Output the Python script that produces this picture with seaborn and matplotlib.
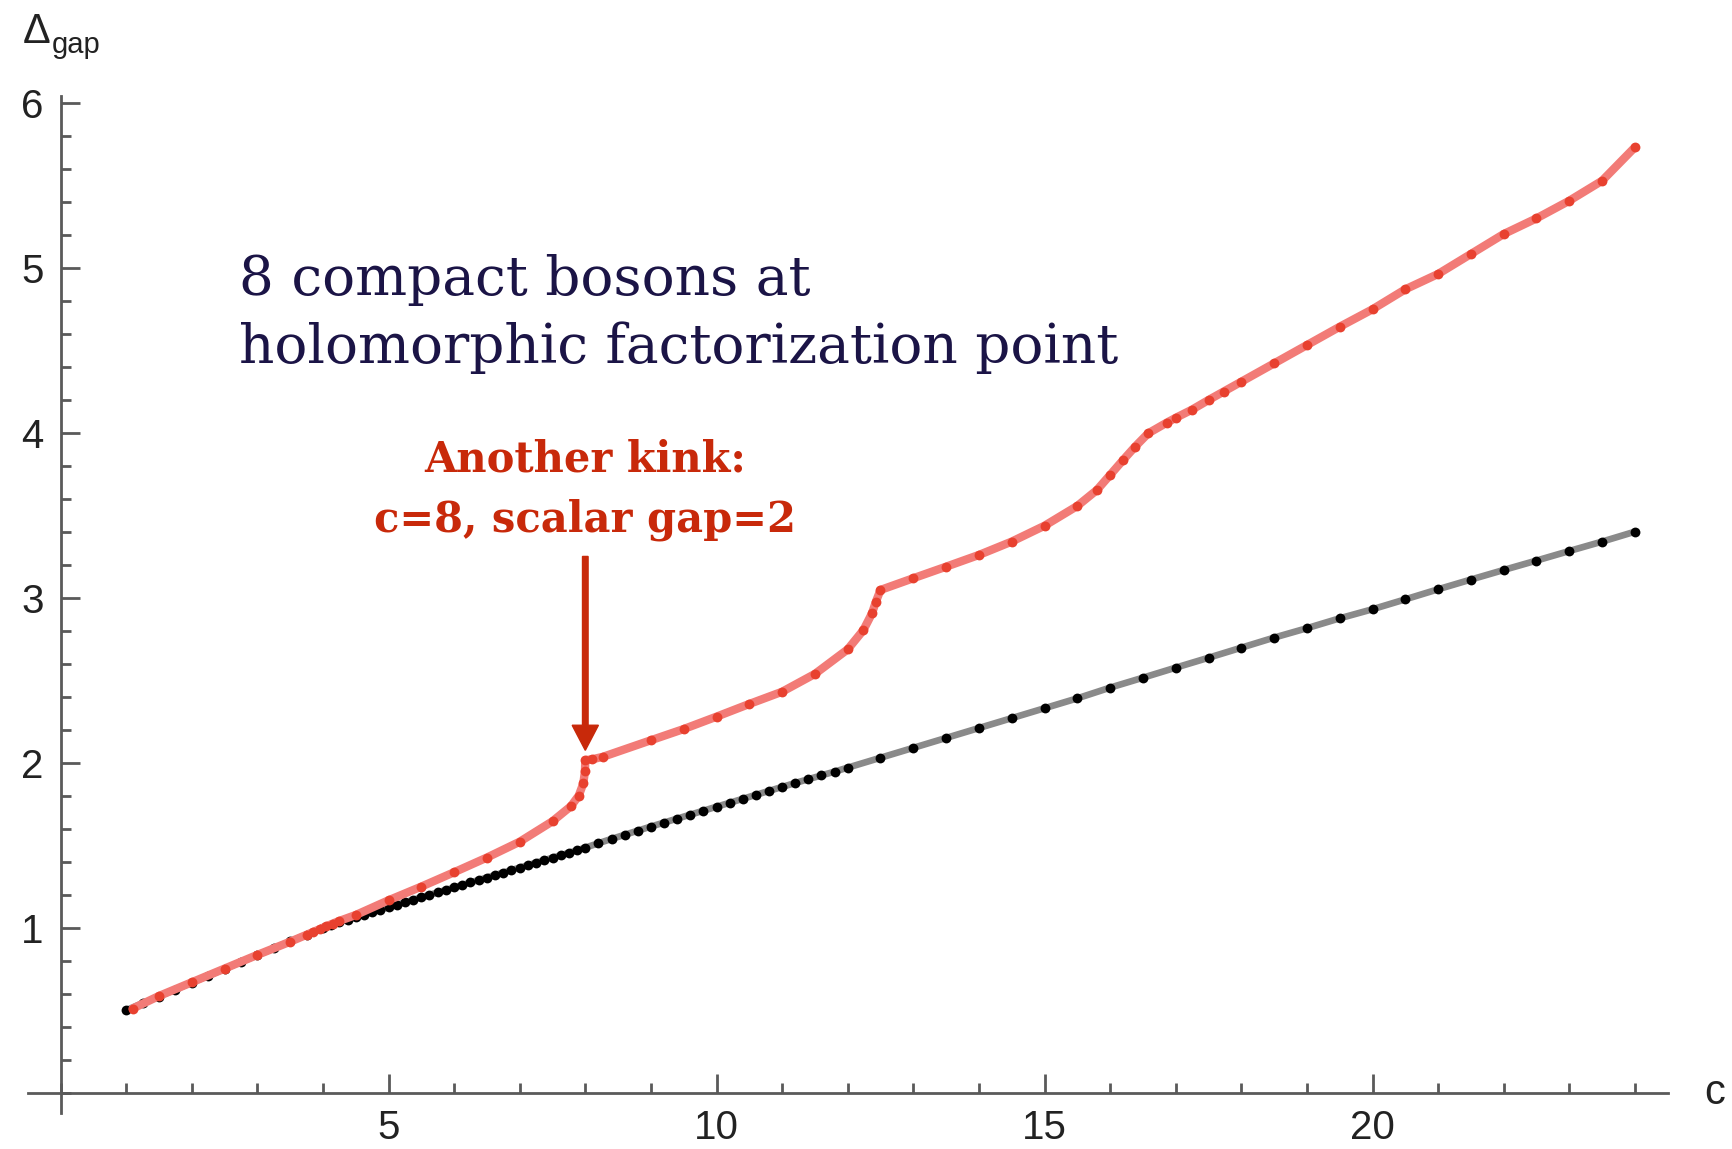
import matplotlib
matplotlib.use("Agg")
import matplotlib.pyplot as plt
import seaborn as sns
import pandas as pd
from matplotlib.ticker import FixedLocator, MultipleLocator

# bound without extra assumptions (black)
black_c = [1.0, 1.25, 1.5, 1.75, 2.0, 2.25, 2.5, 2.75, 3.0, 3.25, 3.5, 3.75, 4.0,
           4.125, 4.25, 4.375, 4.5, 4.625, 4.75, 4.875, 5.0, 5.125, 5.25, 5.375,
           5.5, 5.625, 5.75, 5.875, 6.0, 6.125, 6.25, 6.375, 6.5, 6.625, 6.75,
           6.875, 7.0, 7.125, 7.25, 7.375, 7.5, 7.625, 7.75, 7.875, 8.0,
           8.2, 8.4, 8.6, 8.8, 9.0, 9.2, 9.4, 9.6, 9.8, 10.0, 10.2, 10.4, 10.6,
           10.8, 11.0, 11.2, 11.4, 11.6, 11.8, 12.0,
           12.5, 13.0, 13.5, 14.0, 14.5, 15.0, 15.5, 16.0, 16.5, 17.0, 17.5,
           18.0, 18.5, 19.0, 19.5, 20.0, 20.5, 21.0, 21.5, 22.0, 22.5, 23.0,
           23.5, 24.0]
black_gap = [0.500, 0.542, 0.583, 0.625, 0.667, 0.708, 0.750, 0.792, 0.833, 0.875,
             0.917, 0.958, 1.000,
             1.017, 1.033, 1.049, 1.064, 1.079, 1.094, 1.109, 1.124, 1.139, 1.154,
             1.169, 1.184, 1.199, 1.214, 1.229, 1.244, 1.259, 1.274, 1.289, 1.304,
             1.319, 1.334, 1.349, 1.364, 1.379, 1.394, 1.409, 1.424, 1.439, 1.454,
             1.469, 1.485,
             1.512, 1.538, 1.563, 1.588, 1.613, 1.637, 1.661, 1.685, 1.709, 1.733,
             1.757, 1.781, 1.805, 1.829, 1.853, 1.877, 1.900, 1.923, 1.946, 1.970,
             2.030, 2.090, 2.150, 2.210, 2.270, 2.330, 2.390, 2.455, 2.515, 2.576,
             2.636, 2.697, 2.758, 2.815, 2.875, 2.930, 2.990, 3.051, 3.110, 3.168,
             3.225, 3.283, 3.340, 3.400]

# 8 compact bosons at the holomorphic factorization point (red)
red_c = [1.1, 1.5, 2.0, 2.5, 3.0, 3.5, 3.75, 3.85, 3.95, 4.05, 4.15, 4.25, 4.5,
         5.0, 5.5, 6.0, 6.5, 7.0, 7.5, 7.78, 7.9, 7.97, 7.995, 8.0, 8.1, 8.27,
         9.0, 9.5, 10.0, 10.5, 11.0, 11.5, 12.0, 12.24, 12.37, 12.43, 12.5,
         13.0, 13.5, 14.0, 14.5, 15.0, 15.5, 15.8, 16.0, 16.2, 16.38, 16.58,
         16.86, 17.0, 17.25, 17.5, 17.73, 18.0, 18.5, 19.0, 19.5, 20.0, 20.5,
         21.0, 21.5, 22.0, 22.5, 23.0, 23.5, 24.0]
red_gap = [0.510, 0.586, 0.669, 0.752, 0.835, 0.915, 0.957, 0.974, 0.991, 1.008,
           1.025, 1.041, 1.077, 1.166, 1.249, 1.336, 1.425, 1.521, 1.645, 1.736,
           1.800, 1.875, 1.950, 2.016, 2.020, 2.036,
           2.136, 2.204, 2.279, 2.356, 2.430, 2.538, 2.687, 2.804, 2.905, 2.976,
           3.047, 3.118, 3.188, 3.259, 3.340, 3.436, 3.556, 3.653, 3.744, 3.835,
           3.915, 3.996, 4.060, 4.090, 4.140, 4.198, 4.249, 4.309, 4.420, 4.531,
           4.642, 4.748, 4.869, 4.962, 5.083, 5.204, 5.299, 5.406, 5.527, 5.730]

y_major = [1, 2, 3, 4, 5, 6]
x_major = [5, 10, 15, 20]

note_lines = ["8 compact bosons at", "holomorphic factorization point"]
kink_lines = ["Another kink:", "c=8, scalar gap=2"]
kink_c = 8.0
arrow_top = 3.25
arrow_tip = 2.075

black_df = pd.DataFrame({"c": black_c, "gap": black_gap})
red_df = pd.DataFrame({"c": red_c, "gap": red_gap})

sns.set_theme(style="white")
plt.rcParams["font.family"] = ["Liberation Sans", "DejaVu Sans"]

W, H = 1733, 1149
fig = plt.figure(figsize=(W / 100, H / 100), dpi=100)
ax = fig.add_axes([27.7 / W, (H - 1112.5) / H, 1640 / W, (1112.5 - 94.45) / H])
ax.set_xlim(-0.5, 24.5)
ax.set_ylim(-0.12, 6.05)

axis_col = "#5a5a5a"
# black series: gray joining line, black dots
sns.lineplot(data=black_df, x="c", y="gap", ax=ax, sort=False, estimator=None,
             color="#8a8a8a", linewidth=4.8, zorder=2)
sns.scatterplot(data=black_df, x="c", y="gap", ax=ax, color="black", s=50,
                linewidth=0, zorder=3)
# red series: light red line, red dots
sns.lineplot(data=red_df, x="c", y="gap", ax=ax, sort=False, estimator=None,
             color="#f27b77", linewidth=6.0, zorder=4)
sns.scatterplot(data=red_df, x="c", y="gap", ax=ax, color="#e8412f", s=50,
                linewidth=0, zorder=5)

for s in ["top", "right"]:
    ax.spines[s].set_visible(False)
ax.spines["left"].set_position(("data", 0))
ax.spines["bottom"].set_position(("data", 0))
ax.spines["left"].set_bounds(-0.12, 6.04)
for s in ["left", "bottom"]:
    ax.spines[s].set_color(axis_col)
    ax.spines[s].set_linewidth(2.0)

ax.xaxis.set_major_locator(FixedLocator(x_major))
ax.yaxis.set_major_locator(FixedLocator(y_major))
ax.xaxis.set_minor_locator(MultipleLocator(1))
ax.yaxis.set_minor_locator(MultipleLocator(0.2))
ax.set_xticklabels([str(v) for v in x_major])
ax.set_yticklabels([str(v) for v in y_major])
ax.tick_params(which="both", bottom=True, left=True, top=False, right=False)
ax.tick_params(which="major", direction="in", length=13.5, width=2.0,
               color=axis_col, labelsize=29, labelcolor="#222222")
ax.tick_params(which="minor", direction="in", length=7.5, width=2.0, color=axis_col)
ax.tick_params(axis="x", which="major", pad=12)
ax.tick_params(axis="y", which="major", pad=12)
ax.set_xlabel("")
ax.set_ylabel("")
ax.grid(False)

# axis labels, placed like the original (outside the plotting frame)
fig.text(23 / W, 1 - 43 / H, "\u0394", fontsize=30, color="#222222", va="baseline")
fig.text(52 / W, 1 - 53 / H, "gap", fontsize=21, color="#222222", va="baseline")
fig.text(1704 / W, 1 - 1104 / H, "c", fontsize=30, color="#222222", va="baseline")

# annotations
ax.text(2.727, 4.835, note_lines[0], fontsize=39.5, family="DejaVu Serif",
        color="#1b1446", va="baseline", ha="left")
ax.text(2.727, 4.423, note_lines[1], fontsize=39.5, family="DejaVu Serif",
        color="#1b1446", va="baseline", ha="left")
ax.text(kink_c, 3.764, kink_lines[0], fontsize=30, family="DejaVu Serif",
        weight="bold", color="#c8290a", va="baseline", ha="center")
ax.text(kink_c, 3.40, kink_lines[1], fontsize=30, family="DejaVu Serif",
        weight="bold", color="#c8290a", va="baseline", ha="center")
ax.arrow(kink_c, arrow_top, 0, arrow_tip - arrow_top, width=0.085,
         head_width=0.40, head_length=0.152, length_includes_head=True,
         color="#c8290a", zorder=6)

fig.savefig("out.png", dpi=100)
